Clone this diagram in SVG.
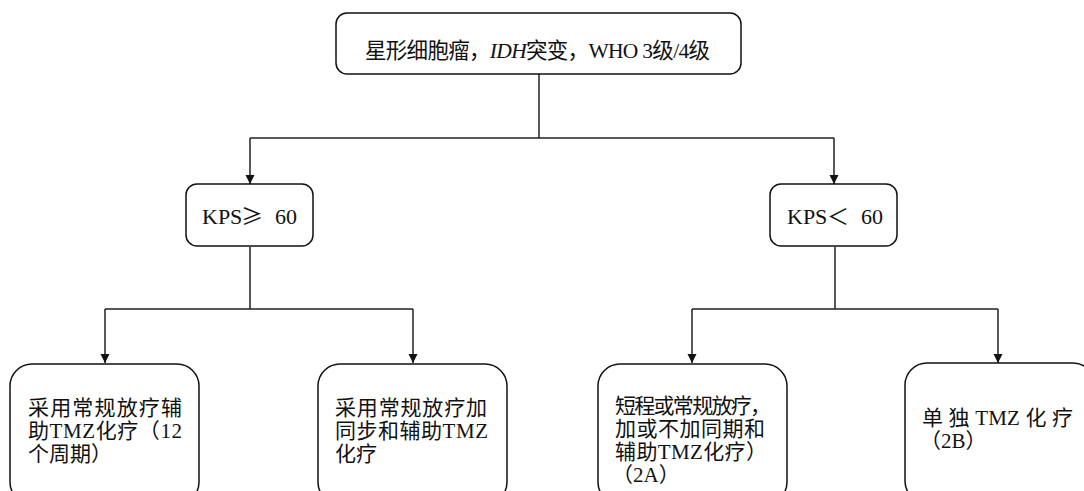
<svg xmlns="http://www.w3.org/2000/svg" width="1084" height="491" viewBox="0 0 1084 491">
<style>
.box{fill:#fff;stroke:#111;stroke-width:1.5}
.ln{fill:none;stroke:#222;stroke-width:1.5}
.t{font-family:"Liberation Serif","Noto Sans CJK SC",serif;font-size:21px;fill:#111}
.tt{font-family:"Liberation Serif","Noto Sans CJK SC",serif;font-size:21.5px;fill:#111}
.k{font-family:"Liberation Serif","Noto Sans CJK SC",serif;font-size:22px;fill:#111}
.cjk{font-family:"Noto Sans CJK SC",sans-serif}
</style>
<defs>
<marker id="ah" markerUnits="userSpaceOnUse" markerWidth="10" markerHeight="10" refX="9" refY="5" orient="auto">
<path d="M0,0.5 L9,5 L0,9.5 Z" fill="#111"/>
</marker>
</defs>
<rect width="1084" height="491" fill="#fff"/>
<g id="connectors">
<path class="ln" d="M539,74 V138 M250,138 H834"/>
<path class="ln" d="M250,138 V184" marker-end="url(#ah)"/>
<path class="ln" d="M834,138 V184" marker-end="url(#ah)"/>
<path class="ln" d="M250,247 V309 M105,309 H413"/>
<path class="ln" d="M105,309 V363" marker-end="url(#ah)"/>
<path class="ln" d="M413,309 V363" marker-end="url(#ah)"/>
<path class="ln" d="M835,247 V309 M692,309 H998"/>
<path class="ln" d="M692,309 V363" marker-end="url(#ah)"/>
<path class="ln" d="M998,309 V363" marker-end="url(#ah)"/>
</g>
<g id="root">
<rect class="box" x="336" y="13" width="405" height="61" rx="11"/>
<text class="tt" x="365" y="58" textLength="345">星形细胞瘤，<tspan font-style="italic">IDH</tspan>突变，WHO 3级/4级</text>
</g>
<g id="kps-high">
<rect class="box" x="186" y="184" width="127" height="62" rx="11"/>
<text class="k" y="224"><tspan x="202">KPS</tspan><tspan class="cjk" x="241">≥</tspan><tspan x="275">60</tspan></text>
</g>
<g id="kps-low">
<rect class="box" x="770" y="184" width="127" height="62" rx="11"/>
<text class="k" y="224"><tspan x="787">KPS</tspan><tspan class="cjk" x="827">＜</tspan><tspan x="861">60</tspan></text>
</g>
<g id="opt1">
<rect class="box" x="10" y="364" width="189" height="140" rx="22"/>
<text class="t" x="28" y="415" textLength="154">采用常规放疗辅</text>
<text class="t" x="28" y="438" textLength="154">助TMZ化疗（12</text>
<text class="t" x="28" y="461">个周期）</text>
</g>
<g id="opt2">
<rect class="box" x="318" y="364" width="189" height="140" rx="22"/>
<text class="t" x="335" y="415" textLength="152">采用常规放疗加</text>
<text class="t" x="335" y="438" textLength="153">同步和辅助TMZ</text>
<text class="t" x="335" y="461">化疗</text>
</g>
<g id="opt3">
<rect class="box" x="598" y="364" width="189" height="140" rx="22"/>
<text class="t" x="615" y="413" textLength="156">短程或常规放疗，</text>
<text class="t" x="615" y="436" textLength="150">加或不加同期和</text>
<text class="t" x="615" y="459" textLength="152">辅助TMZ化疗）</text>
<text class="t" x="612" y="482">（2A）</text>
</g>
<g id="opt4">
<rect class="box" x="905" y="363" width="190" height="140" rx="22"/>
<text class="t" x="922" y="425" textLength="151">单 独 TMZ 化 疗</text>
<text class="t" x="920" y="448">（2B）</text>
</g>
</svg>
